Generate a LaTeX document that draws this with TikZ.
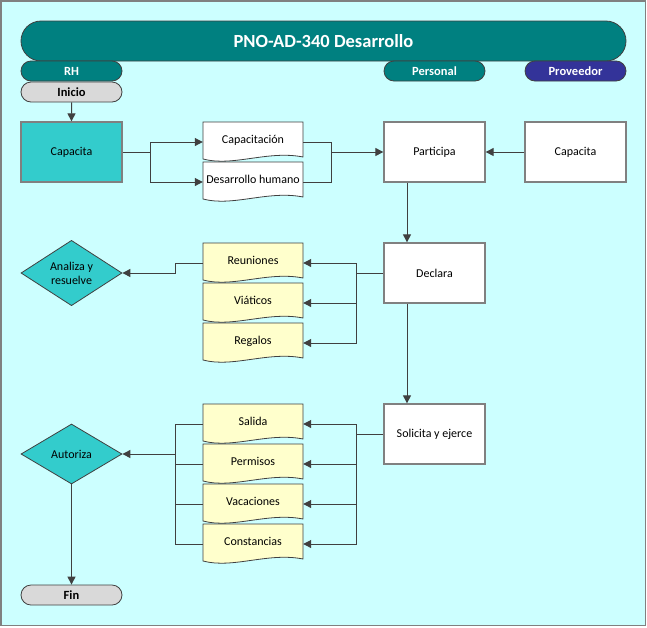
\documentclass[tikz,border=0pt]{standalone}
\usepackage{fontspec}
\setmainfont{Carlito}
\usetikzlibrary{arrows.meta,shapes.geometric,shapes.misc}
\definecolor{bgc}{HTML}{CCFFFF}
\definecolor{tealc}{HTML}{008080}
\definecolor{provc}{HTML}{333399}
\definecolor{turqc}{HTML}{33CCCC}
\definecolor{docyc}{HTML}{FFFFCC}
\definecolor{termc}{HTML}{D9D9D9}
\definecolor{lnc}{HTML}{404040}
\definecolor{bdc}{HTML}{808080}
\tikzset{
  titlebar/.style={rounded rectangle, fill=tealc, draw=lnc, line width=0.8pt, minimum width=605pt, minimum height=40pt, inner sep=0pt, text=white, font=\fontsize{18.5}{20}\selectfont\bfseries},
  lanehead/.style={rounded rectangle, fill=tealc, draw=lnc, line width=0.8pt, minimum width=101pt, minimum height=20pt, inner sep=0pt, text=white, font=\fontsize{12.5}{14}\selectfont\bfseries},
  termbox/.style={rounded rectangle, fill=termc, draw=lnc, line width=0.8pt, minimum width=101pt, minimum height=20pt, inner sep=0pt, text=black, font=\fontsize{12.5}{14}\selectfont\bfseries},
  procbox/.style={rectangle, fill=white, draw=bdc, line width=1.3pt, minimum width=101pt, minimum height=60pt, inner sep=0pt, font=\fontsize{12}{14}\selectfont},
  decbox/.style={diamond, fill=turqc, draw=lnc, line width=0.8pt, minimum width=101pt, minimum height=60pt, inner sep=0pt, align=center, font=\fontsize{12}{14}\selectfont},
  doctext/.style={rectangle, minimum width=100pt, minimum height=40pt, inner sep=0pt, font=\fontsize{12}{14}\selectfont},
  docline/.style={draw=lnc, line width=0.8pt},
  conn/.style={draw=lnc, line width=1pt},
  arr/.style={conn, -{Triangle[length=8pt,width=8pt]}},
}
\newcommand\docshape[5]{%
  \filldraw[docline, fill=#4] ({#2-50},{#3-20}) -- ({#2+50},{#3-20}) -- ({#2+50},{#3+15})
    .. controls ({#2+15},{#3+8}) and ({#2-20},{#3+25}) .. ({#2-50},{#3+17}) -- cycle;
  \node[doctext] (#1) at (#2,#3) {\raisebox{5.5pt}{#5}};}
\begin{document}
\begin{tikzpicture}[x=1pt,y=-1pt]
\useasboundingbox (0,0) rectangle (647,627);
\fill[white] (0,0) rectangle (647,627);
\filldraw[fill=bgc, draw=bdc, line width=1.5pt] (1,1) rectangle (645.5,625.5);

% header
\node[titlebar] (title) at (323.5,41) {PNO-AD-340 Desarrollo};
\node[lanehead] (rh) at (71.5,71) {RH};
\node[lanehead] (pers) at (434.5,71) {Personal};
\node[lanehead, fill=provc] (prov) at (575.5,71) {Proveedor};

% nodes
\node[termbox] (ini) at (71.5,92) {Inicio};
\node[procbox, fill=turqc] (cap) at (71.5,152) {Capacita};
\node[procbox] (part) at (434.5,152) {Participa};
\node[procbox] (capp) at (575.5,152) {Capacita};
\node[procbox] (decl) at (434.5,273) {Declara};
\node[procbox] (soli) at (434.5,434) {Solicita y ejerce};
\node[decbox] (anal) at (71.5,273) {Analiza y\\resuelve};
\node[decbox] (auto) at (71.5,454) {Autoriza};
\node[termbox] (fin) at (71.5,595) {Fin};

\docshape{capn}{253}{142}{white}{Capacitación}
\docshape{desh}{253}{182}{white}{Desarrollo humano}
\docshape{reun}{253}{263}{docyc}{Reuniones}
\docshape{viat}{253}{303}{docyc}{Viáticos}
\docshape{rega}{253}{343}{docyc}{Regalos}
\docshape{sali}{253}{424}{docyc}{Salida}
\docshape{perm}{253}{464}{docyc}{Permisos}
\docshape{vaca}{253}{504}{docyc}{Vacaciones}
\docshape{cons}{253}{544}{docyc}{Constancias}

% junction columns
\coordinate (j3) at (150,0);
\coordinate (j4) at (331,0);
\coordinate (j1) at (356,0);
\coordinate (j2) at (175,0);
\coordinate (vx) at (407,0);

% connectors
\draw[arr] (ini) -- (cap);
\draw[conn] (cap.east) -- (cap.east -| j3);
\draw[arr] (cap.east -| j3) |- (capn.west);
\draw[arr] (cap.east -| j3) |- (desh.west);
\draw[conn] (capn.east) -| (desh.east -| j4) -- (desh.east);
\draw[arr] (part.west -| j4) -- (part.west);
\draw[arr] (capp) -- (part);
\draw[arr] (part.south -| vx) -- (decl.north -| vx);
\draw[arr] (decl.south -| vx) -- (soli.north -| vx);

\draw[conn] (decl.west) -- (decl.west -| j1);
\draw[arr] (decl.west -| j1) |- (reun.east);
\draw[arr] (decl.west -| j1) |- (viat.east);
\draw[arr] (decl.west -| j1) |- (rega.east);
\draw[arr] (reun.west) -- (reun.west -| j2) |- (anal.east);

\draw[conn] (soli.west) -- (soli.west -| j1);
\draw[arr] (soli.west -| j1) |- (sali.east);
\draw[arr] (soli.west -| j1) |- (perm.east);
\draw[arr] (soli.west -| j1) |- (vaca.east);
\draw[arr] (soli.west -| j1) |- (cons.east);

\draw[conn] (sali.west) -| (cons.west -| j2) -- (cons.west);
\draw[conn] (perm.west) -- (perm.west -| j2);
\draw[conn] (vaca.west) -- (vaca.west -| j2);
\draw[arr] (auto.east -| j2) -- (auto.east);
\draw[arr] (auto) -- (fin);
\end{tikzpicture}
\end{document}
